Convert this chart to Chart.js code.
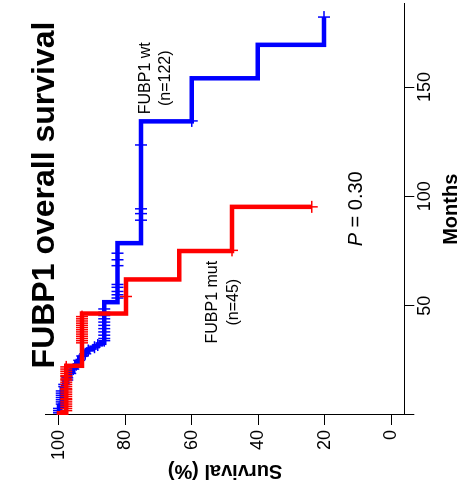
<!DOCTYPE html>
<html>
<head>
<meta charset="utf-8">
<script src="https://cdn.jsdelivr.net/npm/chart.js@4.4.1/dist/chart.umd.min.js"></script>
<style>
  html, body { margin: 0; padding: 0; background: #fff; overflow: hidden; width: 465px; height: 487px; }
  /* the figure is stored on its side: draw it upright, then turn it a quarter left */
  #wrap { position: absolute; left: 0; top: 0; width: 491px; height: 465px;
          transform-origin: 0 0; transform: translate(0px, 487px) rotate(-90deg); }
</style>
</head>
<body>
<div id="wrap"><canvas id="km" width="491" height="465" style="width:491px;height:465px"></canvas></div>
<script>
// Kaplan-Meier steps (months, survival %)
const wtTimes = [0, 4, 12, 15, 18, 20, 22, 24, 26, 27.5, 29, 30, 30.8, 31.5, 32.3, 33, 51.6, 78.6, 134.3, 154.0, 169.3];
const wtSurv  = [100, 99.2, 98.4, 97.5, 96.6, 95.7, 94.8, 93.9, 93.0, 92.1, 91.2, 90.2, 89.3, 88.3, 87.4, 86.4, 82.4, 75.3, 60.0, 40.1, 20.2];
const wtEnd = 182;
const wtCensor = [1, 2, 3, 5, 6, 7, 8, 9, 10, 11, 13, 14, 16, 17, 19, 21, 23, 25, 27, 28, 29.5, 31, 32,
                  34, 35, 36.5, 38, 39.5, 41, 42.5, 44, 45.5, 47, 48.5,
                  53.5, 55, 56.5, 58.4, 59.7, 68.3, 71, 74, 89.1, 92.1, 94.3, 123.5, 134.5, 182];

const mutTimes = [0, 0.8, 22.5, 46.4, 62, 75, 95.2];
const mutSurv  = [100, 97.8, 93.1, 79.8, 63.8, 47.9, 23.9];
const mutEnd = 95.2;
const mutCensor = [2, 3, 4, 5, 6, 7, 7.5, 8.5, 9.5, 10.5, 11.5, 12, 13, 14, 15, 16, 16.5, 17.5, 18, 19, 20, 21, 22,
                   33, 34, 35, 36, 37, 38, 39, 40, 41, 42, 43, 44, 45, 54.2, 75.3, 95.2];

const monthTicks = [0, 50, 100, 150];
const monthTickLabels = ['', '50', '100', '150'];
const survTicks = [0, 20, 40, 60, 80, 100];

const titleText = 'FUBP1 overall survival';
const wtText = ['FUBP1 wt', '(n=122)'];
const mutText = ['FUBP1 mut', '(n=45)'];
const pValue = '0.30';

const FONT = '"Liberation Sans", Arial, Helvetica, sans-serif';

function kmAt(times, surv, t) {
  let s = surv[0];
  for (let i = 0; i < times.length; i++) if (times[i] <= t) s = surv[i];
  return s;
}
function curve(times, surv, end) {
  const pts = times.map((t, i) => ({ x: t, y: surv[i] }));
  if (end > times[times.length - 1]) pts.push({ x: end, y: surv[surv.length - 1] });
  return pts;
}
function marks(times, surv, cens) {
  return cens.map(t => ({ x: t, y: kmAt(times, surv, t) }));
}

const textPlugin = {
  id: 'kmText',
  afterDatasetsDraw(chart) {
    const ctx = chart.ctx, xs = chart.scales.x, ys = chart.scales.y;
    ctx.save();
    ctx.fillStyle = '#000';
    ctx.textAlign = 'center';
    ctx.textBaseline = 'middle';
    ctx.font = '16px ' + FONT;
    ctx.fillText(wtText[0], xs.getPixelForValue(154), ys.getPixelForValue(73.9));
    ctx.fillText(wtText[1], xs.getPixelForValue(154), ys.getPixelForValue(67.8));
    ctx.fillText(mutText[0], xs.getPixelForValue(51.6), ys.getPixelForValue(53.7));
    ctx.fillText(mutText[1], xs.getPixelForValue(51.6), ys.getPixelForValue(47.3));

    // P = 0.30, with an italic P
    const px = xs.getPixelForValue(94.3), py = ys.getPixelForValue(10.3);
    ctx.font = 'italic 20px ' + FONT;
    const wP = ctx.measureText('P').width;
    ctx.font = '20px ' + FONT;
    const rest = ' = ' + pValue;
    const wR = ctx.measureText(rest).width;
    ctx.textAlign = 'left';
    ctx.font = 'italic 20px ' + FONT;
    ctx.fillText('P', px - (wP + wR) / 2, py);
    ctx.font = '20px ' + FONT;
    ctx.fillText(rest, px - (wP + wR) / 2 + wP, py);

    ctx.textAlign = 'center';
    ctx.textBaseline = 'alphabetic';
    ctx.font = 'bold 32px ' + FONT;
    ctx.fillText(titleText, 292, 54);
    ctx.restore();
  }
};

const lineStyle = { stepped: true, pointRadius: 0, borderWidth: 4.5, fill: false, showLine: true };
const markStyle = { showLine: false, pointStyle: 'cross', pointRadius: 6, pointBorderWidth: 1.5 };

new Chart(document.getElementById('km'), {
  type: 'line',
  data: {
    datasets: [
      { label: 'FUBP1 mut', data: curve(mutTimes, mutSurv, mutEnd), borderColor: '#ff0000', ...lineStyle },
      { label: 'mut censored', data: marks(mutTimes, mutSurv, mutCensor), borderColor: '#ff0000', pointBorderColor: '#ff0000', ...markStyle },
      { label: 'FUBP1 wt', data: curve(wtTimes, wtSurv, wtEnd), borderColor: '#0000ff', ...lineStyle },
      { label: 'wt censored', data: marks(wtTimes, wtSurv, wtCensor), borderColor: '#0000ff', pointBorderColor: '#0000ff', ...markStyle }
    ]
  },
  options: {
    responsive: false,
    animation: false,
    devicePixelRatio: 1,
    layout: { padding: { top: 45.7, left: 0, right: 0, bottom: 0 } },
    plugins: { legend: { display: false }, tooltip: { enabled: false } },
    scales: {
      x: {
        type: 'linear', min: 0, max: 188.2,
        afterFit: s => { s.height = 60.7; },
        afterBuildTicks: s => { s.ticks = monthTicks.map(v => ({ value: v })); },
        grid: { drawOnChartArea: false, drawTicks: true, tickLength: 10, tickColor: '#000', tickWidth: 1 },
        border: { display: true, color: '#000', width: 1 },
        ticks: { autoSkip: false, maxRotation: 0, padding: 0, color: '#000', font: { family: FONT, size: 18 },
                 callback: (v, i) => monthTickLabels[i] },
        title: { display: true, text: 'Months', color: '#000', font: { family: FONT, size: 20, weight: 'bold' },
                 padding: { top: 0, bottom: 2 } }
      },
      y: {
        type: 'linear', min: -4, max: 104,
        afterFit: s => { s.width = 72; },
        afterBuildTicks: s => { s.ticks = survTicks.map(v => ({ value: v })); },
        grid: { drawOnChartArea: false, drawTicks: true, tickLength: 10, tickColor: '#000', tickWidth: 1 },
        border: { display: true, color: '#000', width: 1 },
        ticks: { autoSkip: false, padding: 5, color: '#000', font: { family: FONT, size: 18 } },
        title: { display: true, text: 'Survival (%)', color: '#000', font: { family: FONT, size: 20, weight: 'bold' },
                 padding: { top: 4, bottom: 0 } }
      }
    }
  },
  plugins: [textPlugin]
});
</script>
</body>
</html>
